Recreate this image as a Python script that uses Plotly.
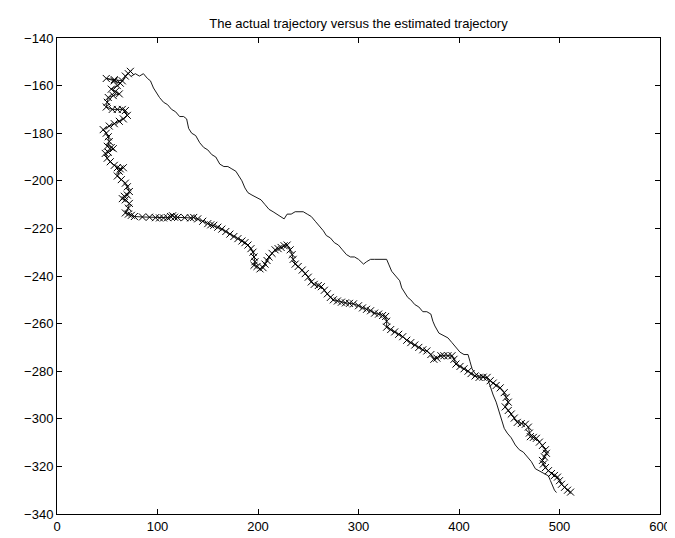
import plotly.graph_objects as go

# Actual trajectory (solid line)
actual_x = [74, 78, 82, 86, 90, 93, 96, 99, 102, 106, 110, 114, 118, 122, 126, 129, 131, 134, 138, 142,
            146, 150, 154, 158, 162, 166, 170, 174, 178, 181, 184, 187, 190, 194, 198, 203, 207, 211, 215, 219,
            223, 226, 229, 233, 237, 241, 245, 249, 253, 257, 261, 265, 268, 272, 276, 280, 284, 288, 292, 296,
            300, 303, 305, 308, 312, 316, 320, 324, 328, 330, 333, 337, 341, 343, 346, 349, 352, 356, 360, 364,
            368, 372, 374, 376, 380, 384, 389, 393, 397, 401, 405, 409, 411, 413, 416, 420, 424, 428, 430, 432,
            434, 437, 439, 441, 443, 445, 448, 452, 456, 460, 464, 468, 472, 476, 480, 485, 489, 491, 493, 495, 497]
actual_y = [-156, -155, -156, -155, -157, -158, -161, -163, -165, -167, -168, -170, -171, -173, -173, -174, -178, -180, -181, -184,
            -186, -187, -189, -190, -193, -194, -194, -195, -196, -198, -200, -203, -205, -206, -207, -208, -210, -212, -213, -214,
            -215, -216, -214, -214, -213, -213, -213, -214, -215, -217, -219, -221, -223, -224, -226, -227, -229, -231, -232, -232,
            -233, -234, -235, -234, -233, -233, -233, -233, -233, -235, -238, -240, -242, -245, -247, -249, -250, -252, -253, -255,
            -255, -256, -259, -261, -264, -265, -266, -268, -270, -272, -273, -273, -276, -279, -281, -282, -282, -283, -285, -288,
            -290, -293, -296, -298, -301, -304, -306, -308, -311, -313, -314, -316, -318, -321, -322, -323, -324, -326, -328, -330, -331]

# Estimated trajectory (line with x markers)
est_x = [73, 71, 68, 65, 57, 49, 57, 63, 60, 54, 58, 62, 56, 51, 50, 49, 55, 60, 65, 68,
         70, 66, 62, 57, 52, 46, 49, 51, 52, 50, 54, 56, 51, 48, 50, 53, 57, 60, 63, 66,
         62, 60, 64, 68, 70, 72, 70, 67, 65, 68, 72, 71, 68, 71, 74, 77, 85, 92, 98, 102,
         106, 110, 113, 115, 117, 120, 127, 133, 136, 140, 145, 150, 153, 156, 160, 164, 168, 172, 176, 180,
         184, 187, 190, 193, 195, 196, 197, 196, 199, 202, 205, 207, 209, 211, 214, 217, 220, 223, 226, 229,
         232, 234, 235, 237, 240, 244, 247, 250, 253, 256, 260, 263, 266, 269, 272, 275, 279, 283, 287, 291,
         295, 300, 304, 308, 312, 316, 320, 324, 327, 328, 328, 332, 336, 340, 344, 348, 352, 356, 360, 364,
         368, 372, 375, 378, 382, 385, 389, 393, 395, 397, 401, 405, 409, 412, 416, 420, 424, 428, 431, 434,
         437, 441, 445, 447, 449, 446, 449, 452, 455, 458, 462, 466, 469, 470, 471, 474, 477, 480, 483, 486,
         487, 485, 483, 484, 486, 489, 492, 495, 498, 500, 502, 505, 508, 511]
est_y = [-154, -155, -156, -158, -157.5, -157, -158, -159, -160, -161.5, -162.5, -163.5, -164.2, -165, -167, -169, -170, -170, -170, -170.5,
         -172.5, -174, -175, -176, -177, -178.5, -180, -181.5, -183.5, -185.5, -186, -186.5, -188, -188.5, -190.5, -192, -193.5, -194.5, -195, -194.5,
         -196, -198, -199.5, -201, -202.5, -204.5, -206, -206.5, -207.5, -208, -209.5, -211.5, -213.5, -214, -214.5, -215, -215.2, -215.3, -215.5, -215.6,
         -215.6, -215.5, -215, -214.7, -215.3, -215.4, -215.5, -215.6, -215.4, -216, -217, -218, -218.5, -218.7, -219.5, -220.3, -221.3, -222.4, -223.4, -224.3,
         -225.3, -226, -227, -228.5, -230, -232, -234, -235.5, -236, -237, -236.5, -235, -233.5, -232, -230.5, -229, -228.5, -228, -227.3, -227,
         -229, -231, -233, -235, -236, -237.5, -239, -240.5, -242.5, -243.5, -244, -244.5, -246, -247.5, -249, -250, -250.5, -251, -251.3, -251.5,
         -251.7, -252.5, -253.4, -254, -254.6, -255.6, -256, -256.6, -257, -259, -261.5, -262.5, -263.5, -264.5, -265.5, -267, -268, -269, -270, -271,
         -271.5, -273, -275, -274.5, -273.5, -273.5, -273.5, -273.5, -275, -277, -278, -279, -280, -281, -282, -282.6, -282.5, -282.6, -284, -285,
         -286, -287, -289, -291, -293, -295, -296.5, -298, -299.7, -301.5, -302, -302.3, -303.5, -306, -307.5, -307.8, -308.2, -309.8, -311.2, -313,
         -314.5, -316, -317.5, -319, -320.5, -321.8, -323, -323.8, -324.5, -326, -327.5, -328.8, -330, -330.8]

x_ticks = [0, 100, 200, 300, 400, 500, 600]
y_ticks = [-340, -320, -300, -280, -260, -240, -220, -200, -180, -160, -140]

FONT = "Liberation Sans, Arial, Helvetica, sans-serif"

fig = go.Figure()
fig.add_trace(go.Scatter(x=actual_x, y=actual_y, mode="lines",
                         line=dict(color="black", width=0.9), showlegend=False))
fig.add_trace(go.Scatter(x=est_x, y=est_y, mode="lines+markers",
                         line=dict(color="black", width=0.9),
                         marker=dict(symbol="x-thin", size=7, line=dict(color="black", width=1)),
                         showlegend=False))

axis_common = dict(showline=True, linecolor="black", linewidth=1, mirror="ticks",
                   ticks="inside", ticklen=5, tickcolor="black", showgrid=False, zeroline=False,
                   tickfont=dict(family=FONT, size=13, color="black"))

fig.update_xaxes(range=[0, 600], tickvals=x_ticks, **axis_common)
fig.update_yaxes(range=[-340, -140], tickvals=y_ticks, **axis_common)

fig.update_layout(
    width=675, height=538,
    margin=dict(l=49, r=14, t=30, b=25),
    paper_bgcolor="white", plot_bgcolor="white",
    title=dict(text="The actual trajectory versus the estimated trajectory",
               x=0.5, xanchor="center", xref="paper", y=1 - 15 / 538, yanchor="middle",
               font=dict(family=FONT, size=13, color="black")),
)

fig.write_html("out.html")
